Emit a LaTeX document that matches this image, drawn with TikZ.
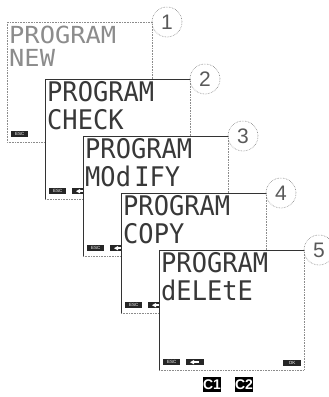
\documentclass[tikz,border=0pt]{standalone}
\usepackage{fontspec}
\newfontfamily\lcdfont{DejaVu Sans Mono}
\newfontfamily\numfont{Liberation Sans}
\tikzset{
  scrdark/.style={draw=black!80, line width=0.9pt},
  scrdot/.style={draw=black!45, densely dotted, line width=0.6pt},
  lcd/.style={font=\lcdfont\fontsize{23.5}{24}\selectfont, execute at begin node={\spaceskip=3pt\relax}, text=black!78, anchor=base west, inner sep=0pt},
  lcdlight/.style={lcd, text=black!45},
  numcirc/.style={circle, draw=black!50, densely dotted, line width=0.6pt, minimum size=30pt, inner sep=0pt, font=\numfont\fontsize{21}{21}\selectfont, text=black!65},
  btnbox/.style={fill=black!85, text=white, inner sep=0pt, minimum height=6pt, anchor=north west, font=\numfont\fontsize{4.5}{4.5}\selectfont},
  ckey/.style={fill=black, text=white, font=\numfont\bfseries\fontsize{14}{14}\selectfont, inner sep=0pt, minimum width=18pt, minimum height=15pt}
}
\newcommand\lcdtxt[1]{\scalebox{1.08}[1.15]{#1}}
\newcommand\lcdsmall[1]{\scalebox{1.08}[1.0]{#1}}
\begin{document}
\begin{tikzpicture}[x=1pt,y=-1pt]
\useasboundingbox (0,0) rectangle (329,397);
\foreach \i/\t in {0/NEW,1/CHECK,2/MOd IFY,3/COPY,4/dELEtE} {
  \pgfmathsetmacro\L{7+38*\i}
  \pgfmathsetmacro\T{22+57*\i}
  \pgfmathsetmacro\R{\L+145}
  \pgfmathsetmacro\B{\T+120}
  \pgfmathtruncatemacro\n{\i+1}
  \fill[white] (\L,\T) rectangle (\R,\B);
  \ifnum\i=0\relax
    \draw[scrdot] (\L,\T) rectangle (\R,\B);
    \node[lcdlight] (p\i) at (\L+2,\T+21) {\lcdsmall{PROGRAM}};
    \node[lcdlight] (t\i) at (\L+2,\T+44) {\lcdsmall{\t}};
  \else
    \draw[scrdot] (\L,\B) -- (\R,\B) -- (\R,\T);
    \draw[scrdark] (\L,\B) -- (\L,\T) -- (\R,\T);
    \node[lcd] (p\i) at (\L+2,\T+22.5) {\lcdtxt{PROGRAM}};
    \node[lcd] (t\i) at (\L+2,\T+50.5) {\lcdtxt{\t}};
    \node[btnbox, minimum width=18pt] (arr\i) at (\L+27,\B-11) {};
    \fill[white] ([xshift=4pt]arr\i.west) -- ++(4,-2.2) -- ++(0,4.4) -- cycle;
    \fill[white] ([xshift=8pt,yshift=-1pt]arr\i.west) rectangle ([xshift=13pt,yshift=1pt]arr\i.west);
  \fi
  \node[btnbox, minimum width=17pt] (esc\i) at (\L+4,\B-11) {ESC};
  \node[numcirc] (c\i) at (\R+15,\T) {\n};
}
\node[btnbox, minimum width=18pt] (ok) at (283,360) {OK};
\node[ckey] (c1key) at (212,384.5) {C1};
\node[ckey] (c2key) at (244,384.5) {C2};
\end{tikzpicture}
\end{document}
